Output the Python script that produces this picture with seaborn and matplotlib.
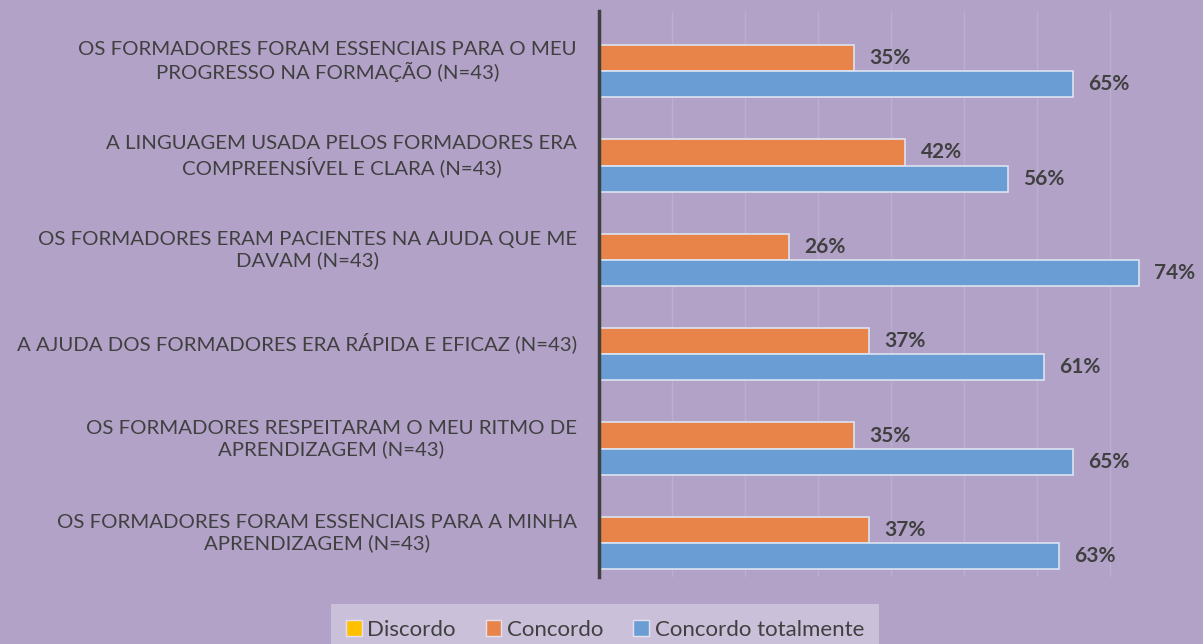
import numpy as np
import pandas as pd
import seaborn as sns
import matplotlib.pyplot as plt
from matplotlib.patches import Patch

# Data
categories = [
    'OS FORMADORES FORAM ESSENCIAIS PARA O MEU\nPROGRESSO NA FORMAÇÃO (N=43)',
    'A LINGUAGEM USADA PELOS FORMADORES ERA\nCOMPREENSÍVEL E CLARA (N=43)',
    'OS FORMADORES ERAM PACIENTES NA AJUDA QUE ME\nDAVAM (N=43)',
    'A AJUDA DOS FORMADORES ERA RÁPIDA E EFICAZ (N=43)',
    'OS FORMADORES RESPEITARAM O MEU RITMO DE\nAPRENDIZAGEM (N=43)',
    'OS FORMADORES FORAM ESSENCIAIS PARA A MINHA\nAPRENDIZAGEM (N=43)',
]
series = ['Discordo', 'Concordo', 'Concordo totalmente']
discordo = [0, 0, 0, 0, 0, 0]
concordo = [35, 42, 26, 37, 35, 37]
totalmente = [65, 56, 74, 61, 65, 63]
colors = ['#FFC000', '#E8834A', '#6A9DD4']

bg = '#B2A2C8'
txt = '#404040'

df = pd.DataFrame({
    'item': categories * 3,
    'resposta': np.repeat(series, len(categories)),
    'pct': discordo + concordo + totalmente,
})

sns.set_theme(style='white')
plt.rcParams['font.family'] = ['Lato', 'DejaVu Sans']

fig = plt.figure(figsize=(12.03, 6.44), dpi=100, facecolor=bg)
ax = fig.add_axes([0.498, 0.104, 0.485, 0.879])
ax.set_facecolor(bg)

sns.barplot(data=df, y='item', x='pct', hue='resposta', hue_order=series,
            order=categories, palette=colors, saturation=1, orient='h', width=0.83,
            edgecolor='#DCE3F0', linewidth=1.2, legend=False, ax=ax)

# value labels
for cont, vals in zip(ax.containers, [discordo, concordo, totalmente]):
    ax.bar_label(cont, labels=[f'{v}%' if v > 0 else '' for v in vals],
                 padding=11, fontsize=15, fontweight='bold', color=txt)

ax.set_xlim(0, 80)
ax.set_xticks(np.arange(10, 81, 10))
ax.set_xticklabels([])
ax.tick_params(axis='x', length=0)
ax.grid(axis='x', color='#BBAED0', linewidth=1)
ax.set_axisbelow(True)
ax.set_xlabel('')
ax.set_ylabel('')

ax.tick_params(axis='y', length=0, pad=16, labelsize=14.7, labelcolor=txt)
for lab in ax.get_yticklabels():
    lab.set_multialignment('center')
    lab.set_linespacing(1.25)

for s in ['top', 'right', 'bottom']:
    ax.spines[s].set_visible(False)
ax.spines['left'].set_color(txt)
ax.spines['left'].set_linewidth(2.5)

handles = [Patch(facecolor=c, edgecolor='#E6E0EE', linewidth=1) for c in colors]
leg = fig.legend(handles, series, loc='lower center', bbox_to_anchor=(0.503, -0.035),
                 ncol=3, frameon=True, facecolor='#CBC0D9', edgecolor='none',
                 fancybox=False, handlelength=0.7, handleheight=0.7,
                 handletextpad=0.25, columnspacing=1.35, fontsize=16,
                 borderpad=0.7, labelcolor=txt)
leg.get_frame().set_alpha(1)

fig.savefig('out.png', dpi=100, facecolor=bg)
